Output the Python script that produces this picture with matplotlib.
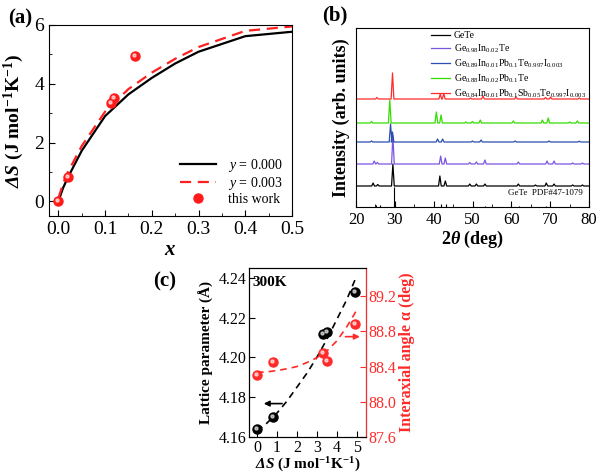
import numpy as np
import matplotlib
matplotlib.use("Agg")
import matplotlib.pyplot as plt
from matplotlib.ticker import MultipleLocator

plt.rcParams["font.family"] = ["Liberation Serif", "DejaVu Serif"]
plt.rcParams["mathtext.fontset"] = "custom"
plt.rcParams["mathtext.rm"] = "Liberation Serif"
plt.rcParams["mathtext.it"] = "Liberation Serif:italic"
plt.rcParams["mathtext.bf"] = "Liberation Serif:bold"
plt.rcParams["mathtext.bfit"] = "Liberation Serif:italic:bold"
plt.rcParams["xtick.direction"] = "in"
plt.rcParams["ytick.direction"] = "in"

# ---- (a) configurational entropy vs x
x_curve = [0.0, 0.01, 0.02, 0.05, 0.1, 0.15, 0.2, 0.25, 0.3, 0.4, 0.5]
s_y0 = [0.0, 0.45, 0.80, 1.72, 2.90, 3.64, 4.20, 4.69, 5.09, 5.62, 5.77]
s_y3 = [0.10, 0.60, 0.98, 1.88, 3.05, 3.82, 4.38, 4.85, 5.25, 5.80, 5.95]
x_work = [0.0, 0.02, 0.113, 0.12, 0.163]
s_work = [0.0, 0.82, 3.33, 3.50, 4.93]

# ---- (b) XRD patterns: (2theta, peak height) per sample, baseline offsets
xrd_names = ["GeTe", "Ge$_{0.98}$In$_{0.02}$Te",
             "Ge$_{0.89}$In$_{0.01}$Pb$_{0.1}$Te$_{0.997}$I$_{0.003}$",
             "Ge$_{0.88}$In$_{0.02}$Pb$_{0.1}$Te",
             "Ge$_{0.84}$In$_{0.01}$Pb$_{0.1}$Sb$_{0.05}$Te$_{0.997}$I$_{0.003}$"]
xrd_colors = ["black", "#7a55e0", "#2a4fb0", "#33dd00", "#ff2a2a"]
xrd_base = [21, 43, 65, 84, 108]
xrd_peaks = [
    [(24.4, 3), (25.6, 1.5), (29.5, 22), (41.6, 10), (43.0, 5), (49.3, 2), (51.0, 2),
     (53.2, 2), (61.8, 2), (66.2, 1), (69.0, 3), (71.0, 2), (75.8, 1), (78.3, 1)],
    [(24.7, 3), (25.5, 1.5), (29.5, 28), (41.8, 8), (43.0, 6), (49.3, 1.5), (51.0, 2),
     (53.2, 4), (61.8, 2), (69.2, 3), (71.0, 3), (75.8, 1), (78.3, 1)],
    [(24.0, 1), (28.9, 18), (29.4, 10), (41.0, 3), (42.3, 3), (50.0, 1), (52.2, 2),
     (61.0, 1), (69.7, 1), (77.5, 0.8)],
    [(24.0, 1.5), (28.7, 23), (40.7, 11), (41.9, 8), (48.3, 1), (50.0, 1.5), (52.0, 3),
     (60.5, 2), (68.0, 3), (69.5, 5), (75.0, 1), (77.0, 2)],
    [(25.4, 1.5), (29.4, 26), (41.7, 5), (42.6, 5.5), (49.5, 1), (52.7, 3), (61.2, 2),
     (68.8, 1.5), (70.1, 2), (77.5, 1)],
]
ref_peaks = [(25.2, 2), (26.1, 2), (29.8, 20), (41.8, 3), (43.1, 3), (53.3, 1),
             (61.9, 1), (69.0, 1)]

# ---- (c) lattice parameter and interaxial angle vs dS
ds_pts = [0.0, 0.8, 3.33, 3.5, 4.93]
lat_pts = [4.164, 4.170, 4.212, 4.213, 4.233]
ang_pts = [88.30, 88.45, 88.555, 88.46, 88.885]
ds_fit = [0.0, 0.5, 1.0, 1.5, 2.0, 2.5, 3.0, 3.5, 4.0, 4.5, 5.0]
lat_fit = [4.163, 4.167, 4.172, 4.178, 4.185, 4.192, 4.200, 4.209, 4.219, 4.229, 4.241]
ang_fit = [88.335, 88.34, 88.355, 88.375, 88.40, 88.445, 88.50, 88.575, 88.69, 88.85, 89.04]

fig = plt.figure(figsize=(6.0, 4.74), dpi=100)
W, H = 600.0, 474.0


def px_axes(l, t, r, b):
    return fig.add_axes([l / W, 1 - b / H, (r - l) / W, (b - t) / H])


def ball(ax, x, y, color, label=None):
    ax.plot(x, y, "o", ls="none", ms=6.5, color=color, mec=color, zorder=5, label=label)
    ax.plot(x, y, "o", ls="none", ms=2.2, color="white", alpha=0.6, zorder=6,
            transform=ax.transData + matplotlib.transforms.ScaledTranslation(
                -1 / 100, 1 / 100, fig.dpi_scale_trans))


# ===== (a)
ax1 = px_axes(49, 25, 292, 216)
ax1.plot(x_curve, s_y0, color="black", lw=1.6, label="$y$ = 0.000")
ax1.plot(x_curve, s_y3, color="#ff2020", lw=1.6, ls=(0, (5, 3)), label="$y$ = 0.003")
ball(ax1, x_work, s_work, "#ff1a1a", label="this work")
ax1.set_xlim(-0.02, 0.5)
ax1.set_ylim(-0.5, 6)
ax1.xaxis.set_minor_locator(MultipleLocator(0.05))
ax1.yaxis.set_major_locator(MultipleLocator(2))
ax1.yaxis.set_minor_locator(MultipleLocator(1))
ax1.set_xticks([0.0, 0.1, 0.2, 0.3, 0.4, 0.5])
ax1.set_xticklabels(["0.0", "0.1", "0.2", "0.3", "0.4", "0.5"])
ax1.tick_params(labelsize=14, length=4)
ax1.tick_params(which="minor", length=2.5)
ax1.set_xlabel("$\\mathbfit{x}$", fontsize=15, labelpad=2)
ax1.set_ylabel("$\\mathbfit{\\Delta S}$ (J mol$^{\\mathbf{-1}}$K$^{\\mathbf{-1}}$)",
               fontsize=14, fontweight="bold", labelpad=6)
ax1.legend(loc="lower right", frameon=False, fontsize=10, handlelength=2.6,
           borderaxespad=0.3, labelspacing=0.1)
fig.text(20 / W, 1 - 18 / H, "(a)", fontsize=15, fontweight="bold", ha="center", va="center")

# ===== (b)
ax2 = px_axes(356, 28, 589, 207)
for name, col, base, peaks in zip(xrd_names, xrd_colors, xrd_base, xrd_peaks):
    xs, ys = [20.0], [base]
    for pos, h in peaks:
        xs += [pos - 0.35, pos, pos + 0.35]
        ys += [base, base + h, base]
    xs.append(80.0)
    ys.append(base)
    ax2.plot(xs, ys, color=col, lw=0.9, label=name)
ax2.vlines([p for p, h in ref_peaks], 0, [h for p, h in ref_peaks], color="black", lw=0.8)
ax2.text(78.5, 14, "GeTe  PDF#47-1079", fontsize=6.5, ha="right", va="center")
ax2.set_xlim(20, 80)
ax2.set_ylim(0, 179)
ax2.set_yticks([])
ax2.xaxis.set_major_locator(MultipleLocator(10))
ax2.xaxis.set_minor_locator(MultipleLocator(5))
ax2.tick_params(labelsize=12, length=4)
ax2.tick_params(which="minor", length=2.5)
ax2.set_xlabel("2$\\mathbfit{\\theta}$ (deg)", fontsize=13, fontweight="bold", labelpad=1)
ax2.set_ylabel("Intensity (arb. units)", fontsize=13, fontweight="bold", labelpad=4)
ax2.legend(loc="upper right", frameon=False, fontsize=7, handlelength=2.0,
           handletextpad=0.4, borderaxespad=0.1, borderpad=0.2, labelspacing=0.25,
           bbox_to_anchor=(1.0, 1.0))
fig.text(335 / W, 1 - 15 / H, "(b)", fontsize=15, fontweight="bold", ha="center", va="center")

# ===== (c)
ax3 = px_axes(249, 268, 366, 437)
ax3.plot(ds_fit, lat_fit, color="black", lw=1.2, ls=(0, (4, 3)))
ball(ax3, ds_pts, lat_pts, "black")
ax3.set_xlim(-0.4, 5.47)
ax3.set_ylim(4.16, 4.245)
ax3.xaxis.set_major_locator(MultipleLocator(1))
ax3.yaxis.set_major_locator(MultipleLocator(0.02))
ax3.tick_params(labelsize=11.5, length=4, pad=2)
ax3.set_xlabel("$\\mathbfit{\\Delta S}$ (J mol$^{\\mathbf{-1}}$K$^{\\mathbf{-1}}$)",
               fontsize=11, fontweight="bold", labelpad=0)
ax3.set_ylabel("Lattice parameter (Å)", fontsize=11, fontweight="bold", labelpad=3)
ax3.text(0.03, 0.95, "300K", transform=ax3.transAxes, fontsize=11, fontweight="bold",
         ha="left", va="top")
ax3.annotate("", xy=(0.2, 4.1768), xytext=(1.4, 4.1768),
             arrowprops=dict(arrowstyle="-|>", color="black", lw=1.2,
                             mutation_scale=8))

ax4 = ax3.twinx()
red = "#ff2a2a"
ax4.plot(ds_fit, ang_fit, color=red, lw=1.2, ls=(0, (4, 3)))
ball(ax4, ds_pts, ang_pts, red)
ax4.set_ylim(87.6, 89.52)
ax4.yaxis.set_major_locator(MultipleLocator(0.4))
ax4.tick_params(axis="y", colors=red, labelsize=11.5, length=4, pad=2)
ax4.spines["right"].set_color(red)
ax4.set_ylabel("Interaxial angle α (deg)", fontsize=11.5, fontweight="bold", color=red,
               labelpad=2)
ax4.annotate("", xy=(5.3, 88.74), xytext=(4.3, 88.74),
             arrowprops=dict(arrowstyle="-|>", color=red, lw=1.2, mutation_scale=8))
fig.text(165 / W, 1 - 281 / H, "(c)", fontsize=15, fontweight="bold", ha="center", va="center")

fig.savefig("out.png", dpi=100)
